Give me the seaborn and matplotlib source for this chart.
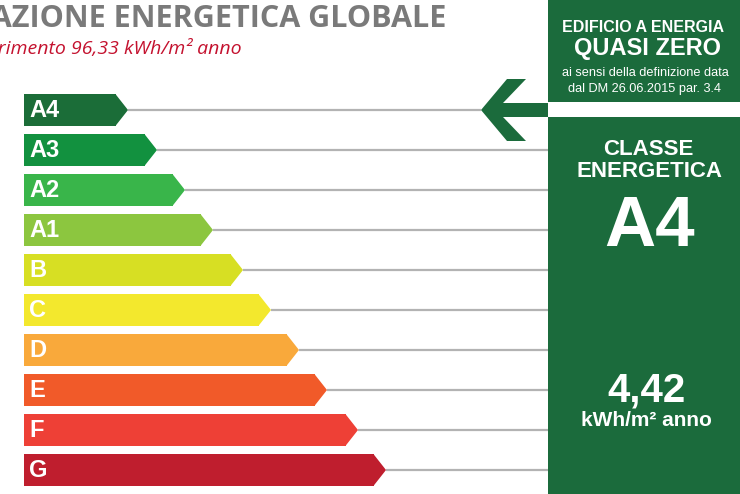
import matplotlib
matplotlib.use("Agg")
import matplotlib.pyplot as plt
from matplotlib.patches import Polygon, Rectangle
import numpy as np
import pandas as pd
import seaborn as sns

# Energy classes, best to worst, and the length of each class arrow (px from the bar origin)
classes = ["A4", "A3", "A2", "A1", "B", "C", "D", "E", "F", "G"]
arrow_len = [104, 133, 161, 189, 219, 247, 275, 303, 334, 362]
class_colors = ["#1b6d38", "#12913f", "#39b54a", "#8cc63f", "#d7df23",
                "#f3e82d", "#f9a93b", "#f15a29", "#ee4036", "#bf1e2e"]

current_class = "A4"
ep_value = "4,42"
ep_reference = "96,33"

TIP = 12          # depth of the arrow point
LINE_END = 524    # guide lines run up to the class panel

sns.set_theme(style="white")
plt.rcParams["font.family"] = ["Liberation Sans", "DejaVu Sans"]

W, H = 740, 494
fig = plt.figure(figsize=(W / 100, H / 100), dpi=100)
fig.patch.set_facecolor("white")

# Full-figure overlay axes in pixel units for panels and headings
ax = fig.add_axes([0, 0, 1, 1])
ax.set_xlim(0, W)
ax.set_ylim(H, 0)
ax.axis("off")

# Axes for the class bars: one row per class, 40 px pitch
axb = fig.add_axes([0, (H - 490) / H, 1, 400 / H])
df = pd.DataFrame({"classe": classes,
                   "corpo": [v - TIP for v in arrow_len]})
sns.barplot(data=df, x="corpo", y="classe", hue="classe",
            palette=class_colors, orient="h", width=0.8, saturation=1,
            legend=False, ax=axb, linewidth=0)
axb.set_xlim(-24, W - 24)
axb.set_ylim(9.5, -0.5)
axb.axis("off")

panel_green = "#1b6b3c"
for i, (cls, L, col) in enumerate(zip(classes, arrow_len, class_colors)):
    axb.add_patch(Polygon([(L - TIP - 0.6, i - 0.4), (L, i), (L - TIP - 0.6, i + 0.4)],
                          closed=True, facecolor=col, edgecolor="none", zorder=3))
    end = 457 if cls == current_class else LINE_END
    axb.hlines(i, L, end, color="#b3b3b3", linewidth=1.6, zorder=1)
    axb.text(5, i + 0.02, cls, color="white", fontsize=17, fontweight="bold",
             va="center", ha="left", zorder=4)

# Headings
ax.text(446, 19, "PRESTAZIONE ENERGETICA GLOBALE", ha="right", va="center",
        fontsize=22, fontweight="bold", color="#7a7a7a", family="Open Sans")
ax.text(242, 48, f"Edificio di riferimento {ep_reference} kWh/m² anno", ha="right",
        va="center", fontsize=14, style="italic", color="#c4122f", family="Open Sans")

# nZEB panel and class panel
ax.add_patch(Rectangle((548, -5), 200, 107, facecolor=panel_green, edgecolor="none"))
ax.add_patch(Rectangle((548, 117), 200, 385, facecolor=panel_green, edgecolor="none"))

# Pointer arrow to the achieved class
arrow = [(481, 110), (507, 79), (526, 79), (503, 103), (548, 103),
         (548, 117), (503, 117), (526, 141), (507, 141)]
ax.add_patch(Polygon(arrow, closed=True, facecolor=panel_green, edgecolor="none"))

bold = dict(family="Liberation Sans", fontweight="bold",
            color="white", ha="center", va="center")
ax.text(643, 27, "EDIFICIO A ENERGIA", fontsize=11.5, **bold)
ax.text(647, 48, "QUASI ZERO", fontsize=17, **bold)
ax.text(645, 73, "ai sensi della definizione data", fontsize=9.2,
        family="Liberation Sans", color="white", ha="center", va="center")
ax.text(645, 89, "dal DM 26.06.2015 par. 3.4", fontsize=9.2,
        family="Liberation Sans", color="white", ha="center", va="center")

ax.text(648, 149, "CLASSE", fontsize=16, **bold)
ax.text(649, 171, "ENERGETICA", fontsize=16, **bold)
ax.text(650, 228, current_class, fontsize=51, **bold)
ax.text(647, 390, ep_value, fontsize=29, **bold)
ax.text(646, 420, "kWh/m² anno", fontsize=15, **bold)

fig.savefig("out.png", dpi=100, facecolor="white")
